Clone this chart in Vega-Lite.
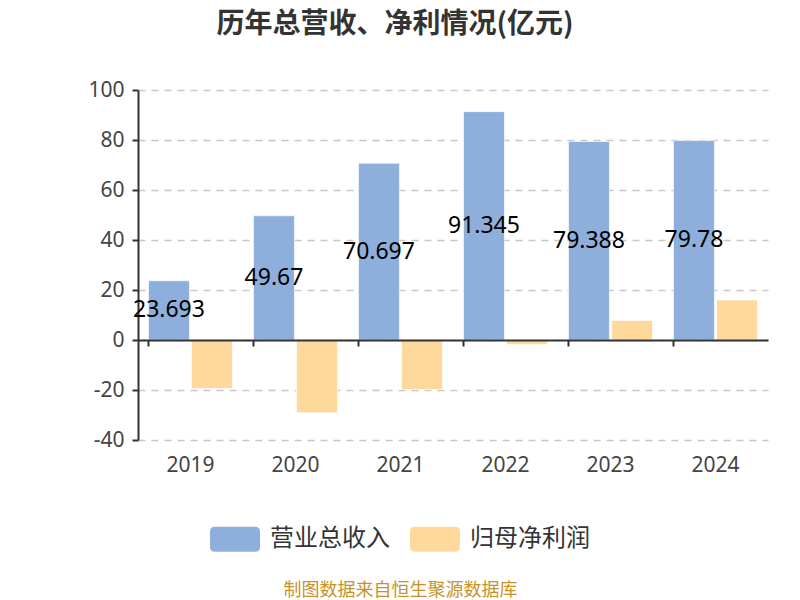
{
  "$schema": "https://vega.github.io/schema/vega-lite/v6.json",
  "width": 630,
  "height": 350,
  "autosize": "none",
  "padding": {"left": 138, "top": 90, "right": 32, "bottom": 160},
  "background": "white",
  "title": {
    "text": "历年总营收、净利情况(亿元)",
    "font": "Noto Sans CJK SC",
    "fontSize": 28,
    "fontWeight": "bold",
    "color": "#333333",
    "anchor": "middle",
    "frame": "group",
    "dx": -58,
    "offset": 40
  },
  "data": {
    "values": [
      {"year": "2019", "type": "营业总收入", "value": 23.693},
      {"year": "2020", "type": "营业总收入", "value": 49.67},
      {"year": "2021", "type": "营业总收入", "value": 70.697},
      {"year": "2022", "type": "营业总收入", "value": 91.345},
      {"year": "2023", "type": "营业总收入", "value": 79.388},
      {"year": "2024", "type": "营业总收入", "value": 79.78},
      {"year": "2019", "type": "归母净利润", "value": -19.4},
      {"year": "2020", "type": "归母净利润", "value": -29.1},
      {"year": "2021", "type": "归母净利润", "value": -19.8},
      {"year": "2022", "type": "归母净利润", "value": -1.8},
      {"year": "2023", "type": "归母净利润", "value": 7.8},
      {"year": "2024", "type": "归母净利润", "value": 16.0}
    ]
  },
  "layer": [
    {
      "mark": {"type": "bar", "stroke": "#ffffff", "strokeOpacity": 0.6, "strokeWidth": 1},
      "encoding": {
        "x": {
          "field": "year",
          "type": "nominal",
          "scale": {"paddingInner": 0.2, "paddingOuter": 0.1},
          "axis": {
            "orient": "bottom",
            "offset": -100,
            "labels": false,
            "title": null,
            "bandPosition": 0,
            "domainColor": "#333333",
            "domainWidth": 2,
            "tickColor": "#333333",
            "tickWidth": 2,
            "tickSize": 6,
            "grid": false,
            "zindex": 2
          }
        },
        "xOffset": {
          "field": "type",
          "type": "nominal",
          "sort": ["营业总收入", "归母净利润"],
          "scale": {"paddingInner": 0.05}
        },
        "y": {
          "field": "value",
          "type": "quantitative",
          "scale": {"domain": [-40, 100], "nice": false},
          "axis": {
            "values": [-40, -20, 0, 20, 40, 60, 80, 100],
            "labelExpr": "toString(datum.value)",
            "title": null,
            "labelFont": "Noto Sans",
            "labelFontSize": 21,
            "labelColor": "#444444",
            "labelPadding": 8,
            "domainColor": "#333333",
            "domainWidth": 2,
            "tickColor": "#333333",
            "tickWidth": 2,
            "tickSize": 6,
            "grid": true,
            "gridColor": "#c8c8c8",
            "gridDash": [7, 6],
            "gridWidth": 1.5
          }
        },
        "color": {
          "field": "type",
          "type": "nominal",
          "scale": {"domain": ["营业总收入", "归母净利润"], "range": ["#8eaedb", "#fed99b"]},
          "legend": {
            "orient": "none",
            "legendX": 72,
            "legendY": 424,
            "direction": "horizontal",
            "title": null,
            "symbolType": "M-0.8,-0.5H0.8Q1,-0.5 1,-0.3V0.3Q1,0.5 0.8,0.5H-0.8Q-1,0.5 -1,0.3V-0.3Q-1,-0.5 -0.8,-0.5Z",
            "symbolSize": 2500,
            "symbolStrokeWidth": 0,
            "symbolOpacity": 1,
            "labelFont": "Noto Sans CJK SC",
            "labelFontSize": 24,
            "labelColor": "#333333",
            "labelOffset": 10,
            "columnPadding": 20
          }
        }
      }
    },
    {
      "transform": [
        {"filter": "datum.type === '营业总收入'"},
        {"calculate": "datum.value / 2", "as": "mid"}
      ],
      "mark": {"type": "text", "font": "Noto Sans", "fontSize": 23, "color": "#000000", "baseline": "middle"},
      "encoding": {
        "x": {
          "field": "year",
          "type": "nominal",
          "axis": {
            "orient": "bottom",
            "domain": false,
            "ticks": false,
            "grid": false,
            "labelAngle": 0,
            "labelFont": "Noto Sans",
            "labelFontSize": 21,
            "labelColor": "#444444",
            "labelPadding": 14,
            "title": "制图数据来自恒生聚源数据库",
            "titleFont": "Noto Sans CJK SC",
            "titleFontSize": 18,
            "titleFontWeight": "normal",
            "titleColor": "#c8922a",
            "titleX": 262,
            "titleY": 150,
            "titleAnchor": "middle",
            "titleAlign": "center",
            "titleBaseline": "middle"
          }
        },
        "xOffset": {"field": "type", "type": "nominal", "sort": ["营业总收入", "归母净利润"]},
        "y": {"field": "mid", "type": "quantitative"},
        "text": {"field": "value", "type": "quantitative"}
      }
    }
  ],
  "resolve": {"axis": {"x": "independent"}},
  "config": {"view": {"stroke": null}}
}
